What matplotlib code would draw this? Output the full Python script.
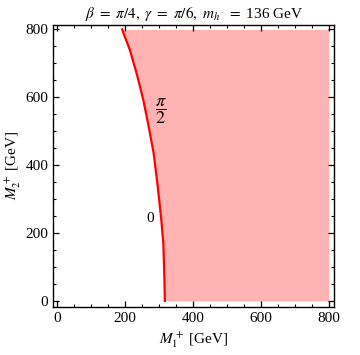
import matplotlib
matplotlib.use("Agg")
import matplotlib.pyplot as plt
from matplotlib.ticker import MultipleLocator

plt.rcParams["font.family"] = ["Liberation Serif", "DejaVu Serif"]
plt.rcParams["mathtext.fontset"] = "stix"

# boundary curve
m2_vals = [0, 72, 170, 239, 337, 435, 518, 592, 666, 739, 800]
m1_vals = [317, 315.5, 312.5, 306.5, 296, 284, 268.5, 253.5, 235, 214, 191]
x_max = 800

title = r"$\beta\ =\ \pi/4,\ \gamma\ =\ \pi/6,\ m_{h'}\ =$ 136 GeV"
xlabel = r"$M_1^+$ [GeV]"
ylabel = r"$M_2^+$ [GeV]"

fig = plt.figure(figsize=(3.6, 3.55), dpi=100)
ax = fig.add_axes([0.148, 0.136, 0.781, 0.7935])

ax.fill_betweenx(m2_vals, m1_vals, x_max, color="#ffb3b3", lw=0)
ax.plot(m1_vals, m2_vals, color="#ff0000", lw=1.6)

ax.text(305, 560, r"$\dfrac{\pi}{2}$", fontsize=13, ha="center", va="center")
ax.text(275, 242, "0", fontsize=11, ha="center", va="center")

ax.set_xlim(-12, 817)
ax.set_ylim(-17, 813)
ax.xaxis.set_major_locator(MultipleLocator(200))
ax.xaxis.set_minor_locator(MultipleLocator(50))
ax.yaxis.set_major_locator(MultipleLocator(200))
ax.yaxis.set_minor_locator(MultipleLocator(50))
ax.tick_params(which="both", direction="in", top=True, right=True, labelsize=11)
ax.tick_params(which="major", length=4.5, width=0.9)
ax.tick_params(which="minor", length=2.5, width=0.8)
for s in ax.spines.values():
    s.set_linewidth(1.0)

ax.set_title(title, fontsize=11, pad=5)
ax.set_xlabel(xlabel, fontsize=11, labelpad=4)
ax.set_ylabel(ylabel, fontsize=11, labelpad=2)

fig.savefig("out.png", dpi=100)
